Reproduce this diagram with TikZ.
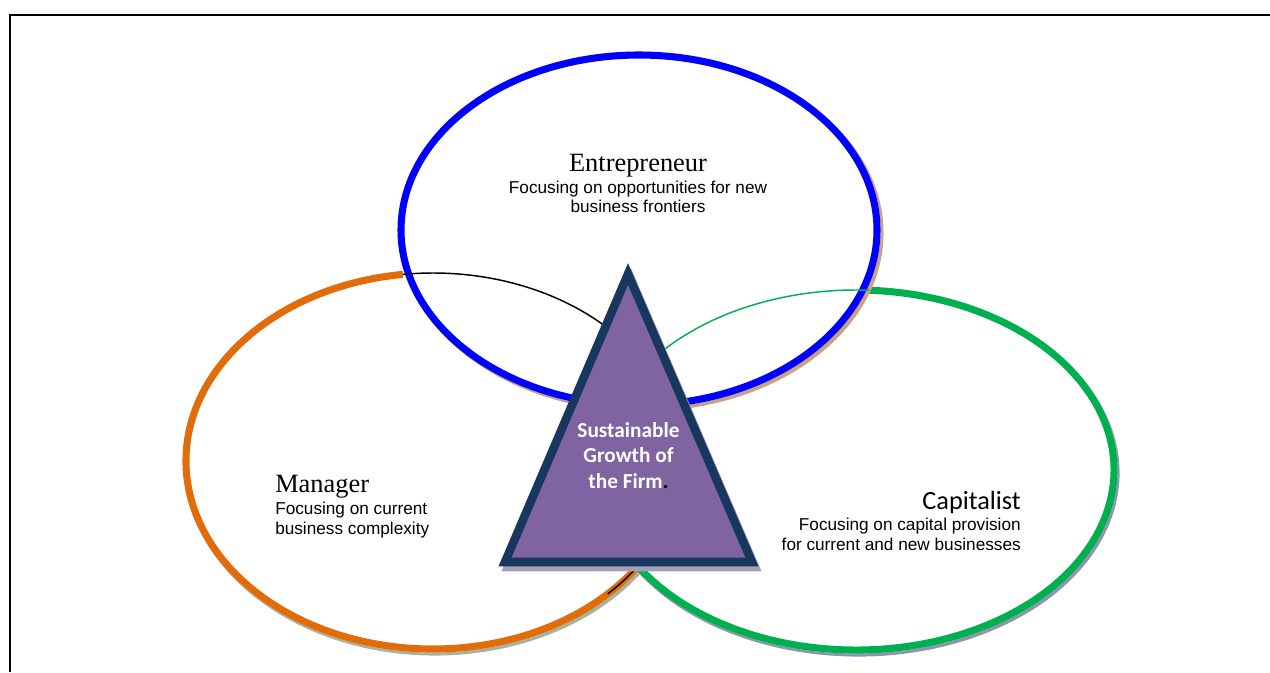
\documentclass[tikz,border=0pt]{standalone}
\usepackage{fontspec}
\setmainfont{Liberation Serif}
\newfontfamily\arialf{Liberation Sans}
\newfontfamily\calib{Carlito}
\definecolor{entblue}{HTML}{0000FF}
\definecolor{mgrorange}{HTML}{E36C0A}
\definecolor{capgreen}{HTML}{00B050}
\definecolor{tanshadow}{HTML}{C9A27F}
\definecolor{orshadow}{HTML}{A9B39C}
\definecolor{grshadow}{HTML}{8E95AD}
\definecolor{trinavy}{HTML}{17375E}
\definecolor{tripurple}{HTML}{8064A2}
\definecolor{trishadow}{HTML}{A59EB8}
\tikzset{
  ring/.style={line width=5.3pt},
  thinarc/.style={line width=1.1pt},
  title/.style={font=\fontsize{19.8}{24}\selectfont, inner sep=0pt},
  desc/.style={font=\arialf\fontsize{12.9}{15}\selectfont, inner sep=0pt},
  goaltext/.style={font=\calib\bfseries\fontsize{16}{19}\selectfont, text=white, inner sep=0pt},
}
\begin{document}
\begin{tikzpicture}[x=0.75pt,y=-0.75pt]
\useasboundingbox (0,0) rectangle (1270,672);
\fill[white] (0,0) rectangle (1270,672);

% frame
\coordinate (fbl) at (10,672);
\coordinate (ftl) at (10,15);
\coordinate (ftr) at (1270,15);
\draw[line width=1.9pt] (fbl) -- (ftl) -- (ftr);

% ellipse centres
\coordinate (mgrc) at (433,461);
\coordinate (capc) at (856,470);
\coordinate (entc) at (639,230);

% Manager ring (orange) with its shadow
\begin{scope}[even odd rule]
  \clip (0,0) rectangle (1270,672) (mgrc) ellipse [x radius=250.5, y radius=191.5];
  \draw[ring, orshadow] ([shift={(mgrc)}]-95:247 and 188) ++(2,3)
     arc[start angle=-95, end angle=-335, x radius=247, y radius=188];
\end{scope}
\draw[ring, mgrorange] ([shift={(mgrc)}]-97:247 and 188)
   arc[start angle=-97, end angle=-335, x radius=247, y radius=188];

% Capitalist ring (green) with its shadow
\begin{scope}[even odd rule]
  \clip (0,0) rectangle (1270,672) (capc) ellipse [x radius=261.5, y radius=183.5];
  \draw[ring, grshadow] ([shift={(capc)}]152:258 and 180) ++(2,3)
     arc[start angle=152, end angle=-87, x radius=258, y radius=180];
\end{scope}
\draw[ring, capgreen] ([shift={(capc)}]152:258 and 180)
   arc[start angle=152, end angle=-87, x radius=258, y radius=180];

% Entrepreneur ring (blue) with its shadow
\begin{scope}[even odd rule]
  \clip (0,0) rectangle (1270,672) (entc) ellipse [x radius=241.5, y radius=178.5];
  \draw[ring, tanshadow] ([shift={(3,3)}]entc) ellipse [x radius=238, y radius=175];
\end{scope}
\draw[ring, entblue] (entc) ellipse [x radius=238, y radius=175];

% thin continuations inside the blue ring
\draw[thinarc, black] ([shift={(mgrc)}]-40:247 and 188)
   arc[start angle=-40, end angle=-97, x radius=247, y radius=188];
\draw[thinarc, capgreen] ([shift={(capc)}]-87:258 and 180)
   arc[start angle=-87, end angle=-142, x radius=258, y radius=180];
\draw[thinarc, black] ([shift={(mgrc)}]-315:247 and 188)
   arc[start angle=-315, end angle=-330, x radius=247, y radius=188];

% central triangle
\coordinate (apex) at (628,274);
\coordinate (bl) at (505,562);
\coordinate (br) at (752,562);
\fill[trishadow, draw=trishadow, line width=6.4pt, line join=miter]
  ([shift={(3,5)}]apex) -- ([shift={(3,5)}]bl) -- ([shift={(3,5)}]br) -- cycle;
\filldraw[fill=tripurple, draw=trinavy, line width=6.4pt, line join=miter]
  (apex) -- (bl) -- (br) -- cycle;

\node[goaltext, anchor=base] (goal1) at (628.5,437) {Sustainable};
\node[goaltext, anchor=base] (goal2) at (628.5,462) {Growth of};
\node[goaltext, anchor=base] (goal3) at (628.5,488) {the Firm\textcolor{black}{.}};

% Entrepreneur text
\node[title, anchor=base] (ent) at (638,171) {Entrepreneur};
\node[desc, anchor=base] (entd1) at (638,193) {Focusing on opportunities for new};
\node[desc, anchor=base] (entd2) at (638,212) {business frontiers};

% Manager text
\node[title, anchor=base west] (mgr) at (275,492) {Manager};
\node[desc, anchor=base west] (mgrd1) at (275,514) {Focusing on current};
\node[desc, anchor=base west] (mgrd2) at (275,534) {business complexity};

% Capitalist text
\node[title, font=\calib\fontsize{19.7}{24}\selectfont, anchor=base east] (cap) at (1021,509) {Capitalist};
\node[desc, anchor=base east] (capd1) at (1021,530) {Focusing on capital provision};
\node[desc, anchor=base east] (capd2) at (1021,550) {for current and new businesses};
\end{tikzpicture}
\end{document}
